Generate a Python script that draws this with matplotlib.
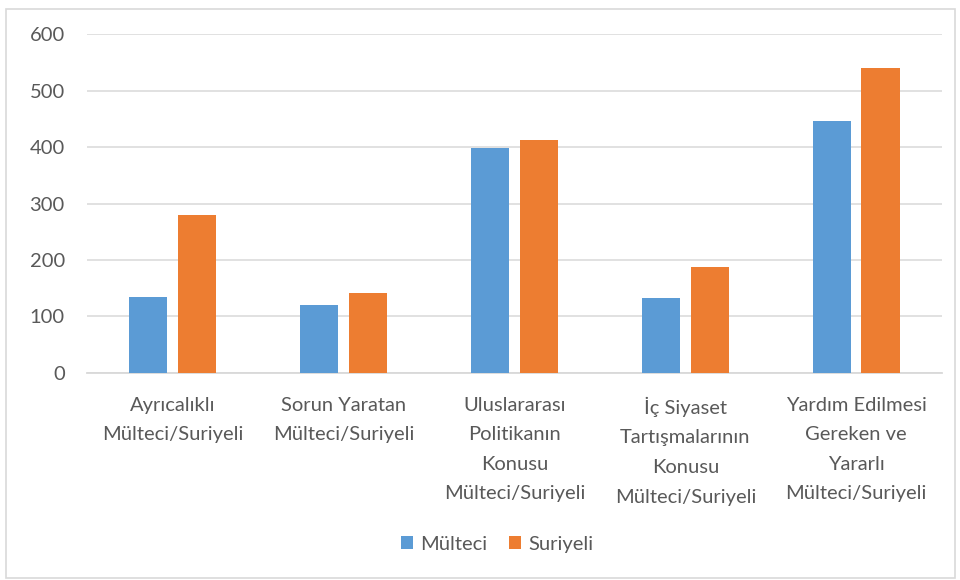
import matplotlib
matplotlib.use('Agg')
import matplotlib.pyplot as plt
import numpy as np
from matplotlib.patches import Rectangle

plt.rcParams['font.family'] = ['Lato', 'DejaVu Sans']

categories = ['Ayrıcalıklı\nMülteci/Suriyeli',
              'Sorun Yaratan\nMülteci/Suriyeli',
              'Uluslararası\nPolitikanın\nKonusu\nMülteci/Suriyeli',
              'İç Siyaset\nTartışmalarının\nKonusu\nMülteci/Suriyeli',
              'Yardım Edilmesi\nGereken ve\nYararlı\nMülteci/Suriyeli']
multeci = [135, 120, 398, 132, 446]
suriyeli = [280, 141, 412, 188, 541]
yticks = [0, 100, 200, 300, 400, 500, 600]

blue = '#5b9bd5'
orange = '#ed7d31'
textc = '#595959'
gridc = '#d9d9d9'

fig = plt.figure(figsize=(9.6, 5.8), dpi=100)
ax = fig.add_axes([0.0906, 0.357, 0.8904, 0.584])

x = np.arange(len(categories))
w = 0.223
off = 0.142
ax.bar(x - off, multeci, w, color=blue, label='Mülteci', zorder=3)
ax.bar(x + off, suriyeli, w, color=orange, label='Suriyeli', zorder=3)

ax.set_xlim(-0.5, len(categories) - 0.5)
ax.set_ylim(0, 600)
ax.set_yticks(yticks)
ax.set_xticks(x)
ax.set_xticklabels(categories, linespacing=1.9, fontsize=14.5, color=textc)
ax.tick_params(axis='x', length=0, pad=17)
ax.tick_params(axis='y', length=0, pad=16, labelsize=14.5, labelcolor=textc)
ax.grid(axis='y', color=gridc, linewidth=1.1, zorder=0)
for s in ['top', 'right', 'left']:
    ax.spines[s].set_visible(False)
ax.spines['bottom'].set_color(gridc)
ax.spines['bottom'].set_linewidth(1.3)

fig.legend(loc='center', bbox_to_anchor=(0.518, 0.062), ncol=2, frameon=False,
           fontsize=14.5, labelcolor=textc, handlelength=0.6, handleheight=0.6,
           handletextpad=0.35, columnspacing=1.1)

fig.patches.append(Rectangle((6 / 960, 2 / 580), 949 / 960, 569 / 580,
                             transform=fig.transFigure, fill=False,
                             edgecolor=gridc, linewidth=1.2))

fig.savefig('out.png', dpi=100)
